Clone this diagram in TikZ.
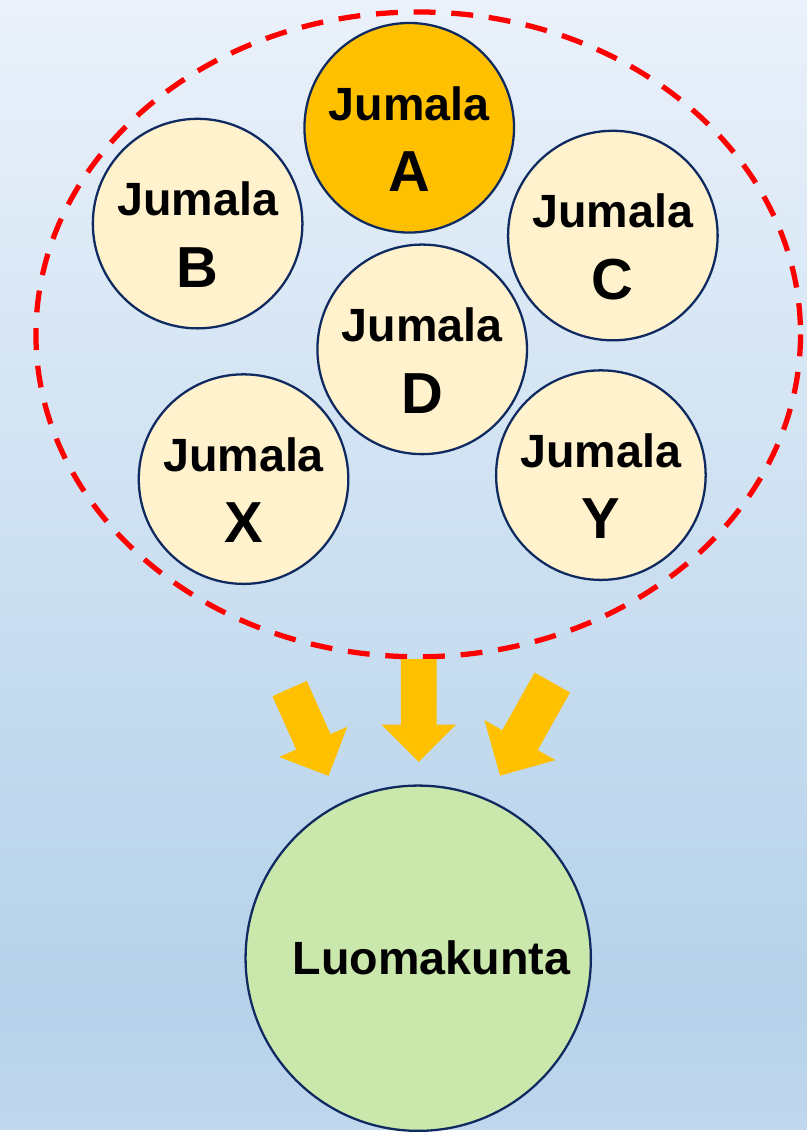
\documentclass[tikz,border=0pt]{standalone}
\usepackage{fontspec}
\setmainfont{Liberation Sans}
\usetikzlibrary{shapes, shapes.arrows, positioning}
\definecolor{godfill}{HTML}{FFF2CC}
\definecolor{chosenfill}{HTML}{FFC000}
\definecolor{worldfill}{HTML}{CBE8AC}
\definecolor{rimline}{HTML}{0F2A60}
\definecolor{bgtop}{HTML}{EAF1FA}
\definecolor{bgdark}{HTML}{B5D2EA}
\definecolor{bgbot}{HTML}{C0D7EE}
\pgfdeclareverticalshading{bgshade}{100bp}{color(0bp)=(bgbot); color(25bp)=(bgbot); color(31bp)=(bgdark); color(75bp)=(bgtop); color(100bp)=(bgtop)}
\newcommand{\godname}[1]{\rule{0pt}{32pt}Jumala\\{\fontsize{33}{40.8}\selectfont #1}}

\begin{document}
\begin{tikzpicture}[x=0.02cm, y=-0.02cm,
  god/.style={circle, draw=rimline, line width=1.3pt, fill=godfill,
              minimum size=4.2cm, inner sep=0pt, align=center,
              font=\fontsize{26.6}{40.8}\selectfont\bfseries},
  world/.style={circle, draw=rimline, line width=1.3pt, fill=worldfill,
                minimum size=6.92cm, inner sep=0pt,
                font=\fontsize{26.6}{32}\selectfont\bfseries},
  flow/.style 2 args={single arrow, fill=chosenfill, draw=none,
               inner xsep=0pt, inner ysep=#1, anchor=tail,
               single arrow head extend=#2},
  group/.style={draw=red, line width=3pt, dash pattern=on 12.5pt off 9pt}]

\shade[shading=bgshade] (0,0) rectangle (808,1132);
\draw[group] (419,335) ellipse [x radius=383, y radius=323];

\node[god, fill=chosenfill] (godA) at (410,128) {\godname{A}};
\node[god] (godB) at (198,224) {\godname{B}};
\node[god] (godC) at (614,236) {\godname{C}};
\node[god] (godD) at (423,350) {\godname{D}};
\node[god] (godX) at (244,480) {\godname{X}};
\node[god] (godY) at (602,476) {\godname{Y}};

\node[flow={0.37cm}{0.37cm}, minimum height=1.916cm, rotate=-66] (flowL) at (290,689.5) {};
\node[flow={0.35cm}{0.39cm}, minimum height=2.06cm, rotate=-90] (flowM) at (419.5,660) {};
\node[flow={0.40cm}{0.41cm}, minimum height=2.14cm, rotate=-119.3] (flowR) at (553.5,683.5) {};

\node[world] (world) at (419,960) {\hspace*{15pt}Luomakunta};
\end{tikzpicture}
\end{document}
